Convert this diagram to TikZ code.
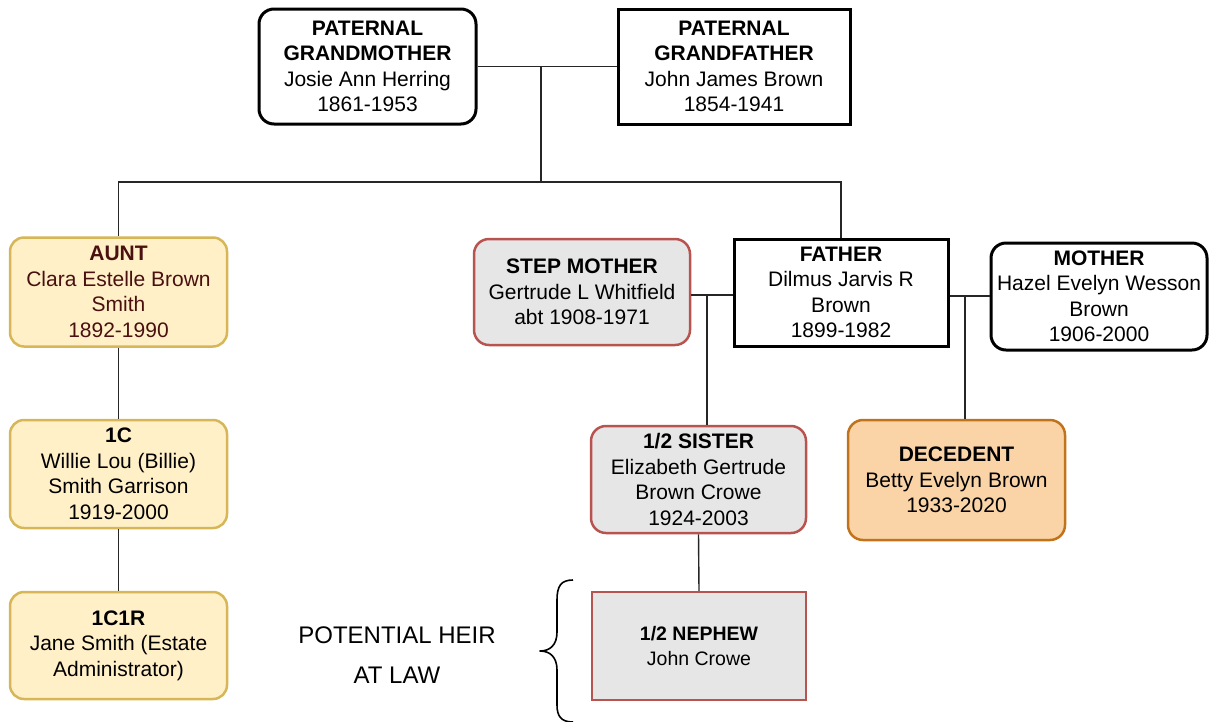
\documentclass[tikz,border=0pt]{standalone}
\usepackage{fontspec}
\setmainfont{Liberation Sans}
\usetikzlibrary{calc}
\definecolor{goldline}{HTML}{D6B656}
\definecolor{goldfill}{HTML}{FFF0C8}
\definecolor{redline}{HTML}{B85450}
\definecolor{grayfill}{HTML}{E6E6E6}
\definecolor{orline}{HTML}{C0731A}
\definecolor{orfill}{HTML}{FAD4A6}
\definecolor{maroon}{HTML}{4A1010}
\tikzset{
  person/.style={align=center, inner sep=2pt, font=\fontsize{21}{25.5}\selectfont, minimum width=217pt},
  blackround/.style={person, draw=black, line width=3pt, rounded corners=15pt, fill=white},
  blacksharp/.style={person, draw=black, line width=3pt, fill=white},
  goldbox/.style={person, draw=goldline, line width=2.5pt, rounded corners=14pt, fill=goldfill},
  redround/.style={person, draw=redline, line width=2.5pt, rounded corners=15pt, fill=grayfill},
  redsharp/.style={person, draw=redline, line width=2.5pt, fill=grayfill},
  orbox/.style={person, draw=orline, line width=2.5pt, rounded corners=15pt, fill=orfill},
  link/.style={draw=black!85, line width=1.4pt},
  heir/.style={align=center, font=\fontsize{24}{40}\selectfont},
}
\begin{document}
\begin{tikzpicture}[x=1pt,y=-1pt]
\useasboundingbox (0,0) rectangle (1209,721);
% nodes
\node[blackround, minimum width=217pt, minimum height=115pt] (pgm) at (367.5,66.5)
  {\textbf{PATERNAL}\\\textbf{GRANDMOTHER}\\Josie Ann Herring\\1861-1953};
\node[blacksharp, minimum width=232pt, minimum height=115pt] (pgf) at (734,66.5)
  {\textbf{PATERNAL}\\\textbf{GRANDFATHER}\\John James Brown\\1854-1941};
\node[goldbox, minimum height=109pt, text=maroon] (aunt) at (118.5,292)
  {\textbf{AUNT}\\Clara Estelle Brown\\Smith\\1892-1990};
\node[goldbox, minimum height=108pt] (c1) at (118.5,474)
  {\textbf{1C}\\Willie Lou (Billie)\\Smith Garrison\\1919-2000};
\node[goldbox, minimum height=107pt] (c1r) at (118.5,645.5)
  {\textbf{1C1R}\\Jane Smith (Estate\\Administrator)};
\node[redround, minimum width=216pt, minimum height=106pt] (step) at (582,292)
  {\textbf{STEP MOTHER}\\Gertrude L Whitfield\\abt 1908-1971};
\node[blacksharp, minimum width=214pt, minimum height=107pt] (father) at (841,292.5)
  {\textbf{FATHER}\\Dilmus Jarvis R\\Brown\\1899-1982};
\node[blackround, minimum width=216pt, minimum height=107pt] (mother) at (1099,296.5)
  {\textbf{MOTHER}\\Hazel Evelyn Wesson\\Brown\\1906-2000};
\node[redround, minimum width=215pt, minimum height=107pt] (sister) at (698.5,479.5)
  {\textbf{1/2 SISTER}\\Elizabeth Gertrude\\Brown Crowe\\1924-2003};
\node[redsharp, minimum width=214pt, minimum height=108pt, font=\fontsize{19.5}{25.5}\selectfont] (nephew) at (699,646)
  {\textbf{1/2 NEPHEW}\\John Crowe};
\node[orbox, minimum width=217pt, minimum height=120pt] (dec) at (956.5,480)
  {\textbf{DECEDENT}\\Betty Evelyn Brown\\1933-2020};
\node[heir] (lab) at (397,655) {POTENTIAL HEIR\\AT LAW};
% connectors
\coordinate (m1) at (541,66.5);
\coordinate (bus) at (541,182);
\draw[link] (pgm.east) -- (pgf.west);
\draw[link] (m1) -- (bus);
\draw[link] (aunt.north) |- (bus) -| (father.north);
\draw[link] (aunt) -- (c1);
\draw[link] (c1) -- (c1r);
\coordinate (m2) at (707,295);
\draw[link] (step.east |- m2) -- (father.west |- m2);
\draw[link] (m2) -- (sister.north -| m2);
\coordinate (m3) at (965,296);
\draw[link] (father.east |- m3) -- (mother.west |- m3);
\draw[link] (m3) -- (dec.north -| m3);
\draw[link] (sister.south) -- (nephew.north);
% brace
\coordinate (bt) at (573,580);
\coordinate (bb) at (573,722);
\coordinate (tip) at (540,651);
\draw[line width=1.6pt, line join=round] (bt) .. controls (561,580) and (557,586) .. (557,600) -- (557,632)
  .. controls (557,645) and (550,651) .. (tip)
  .. controls (550,651) and (557,657) .. (557,670) -- (557,705)
  .. controls (557,716) and (561,722) .. (bb);
\end{tikzpicture}
\end{document}
